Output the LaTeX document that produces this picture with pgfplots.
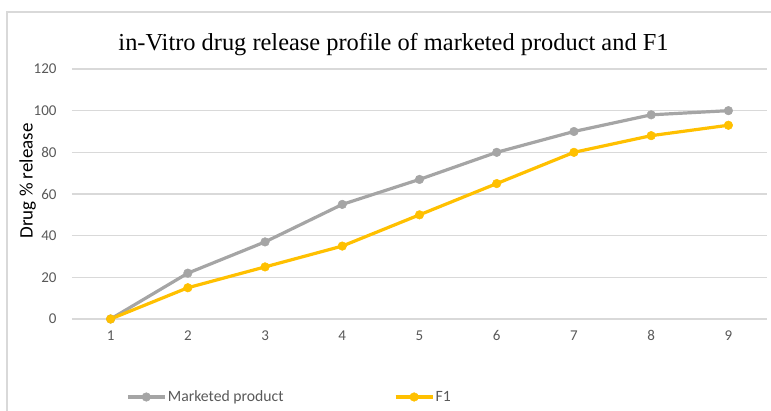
\documentclass[border=0pt]{standalone}
\usepackage{pgfplots}
\pgfplotsset{compat=1.18}
\usepackage{fontspec}
\setmainfont{Liberation Serif}
\newfontfamily\calibri{Carlito}
\definecolor{mkt}{HTML}{A5A5A5}
\definecolor{fone}{HTML}{FFC000}
\definecolor{gridc}{HTML}{D9D9D9}
\definecolor{tickc}{HTML}{595959}
\begin{document}
\begin{tikzpicture}[x=1pt,y=1pt]
\useasboundingbox (0,0) rectangle (771,411);
\begin{scope}
\clip (0,0) rectangle (771,411);
\draw[gridc, line width=1.2pt] (7,-5) rectangle (780,399);
\end{scope}
\node[anchor=base, font=\fontsize{24.4}{28}\selectfont] at (393.5,360.5) {in-Vitro drug release profile of marketed product and F1};
\begin{axis}[
  at={(72pt,92pt)}, anchor=south west,
  scale only axis, width=695pt, height=250pt,
  xmin=0.5, xmax=9.5, ymin=0, ymax=120,
  xtick={1,...,9}, ytick={0,20,...,120},
  axis line style={draw=none},
  major tick length=0pt,
  ymajorgrids, grid style={gridc, line width=1.2pt},
  /pgf/number format/assume math mode=true,
  ticklabel style={font=\calibri\fontsize{15}{18}\selectfont, text=tickc},
  yticklabel style={anchor=east, xshift=-12pt},
  xticklabel style={anchor=north, yshift=-8pt},
  ylabel={Drug \% release},
  ylabel style={font=\calibri\fontsize{19}{22}\selectfont, text=black, at={(axis description cs:-0.047,0.552)}, anchor=south},
  legend columns=2,
  legend style={draw=none, fill=none, inner sep=0pt, at={(axis description cs:0.0777,-0.312)}, anchor=west,
    font=\calibri\fontsize{15.7}{18}\selectfont, text=tickc, nodes={inner sep=1.5pt},
    /tikz/every even column/.append style={column sep=109pt}},
  legend cell align=left,
  legend image code/.code={\draw[mark repeat=2,mark phase=2,#1] plot coordinates {(0pt,0pt) (18.5pt,0pt) (37pt,0pt)};},
  clip=false,
]
\addplot[mkt, line width=3.2pt, mark=*, mark size=4.3pt, mark options={fill=mkt, draw=mkt, line width=0.5pt}] coordinates {
(1,0) (2,22) (3,37) (4,55) (5,67) (6,80) (7,90) (8,98) (9,100)};
\addlegendentry{Marketed product}
\addplot[fone, line width=3.2pt, mark=*, mark size=4.3pt, mark options={fill=fone, draw=fone, line width=0.5pt}] coordinates {
(1,0) (2,15) (3,25) (4,35) (5,50) (6,65) (7,80) (8,88) (9,93)};
\addlegendentry{F1}
\end{axis}
\end{tikzpicture}
\end{document}
